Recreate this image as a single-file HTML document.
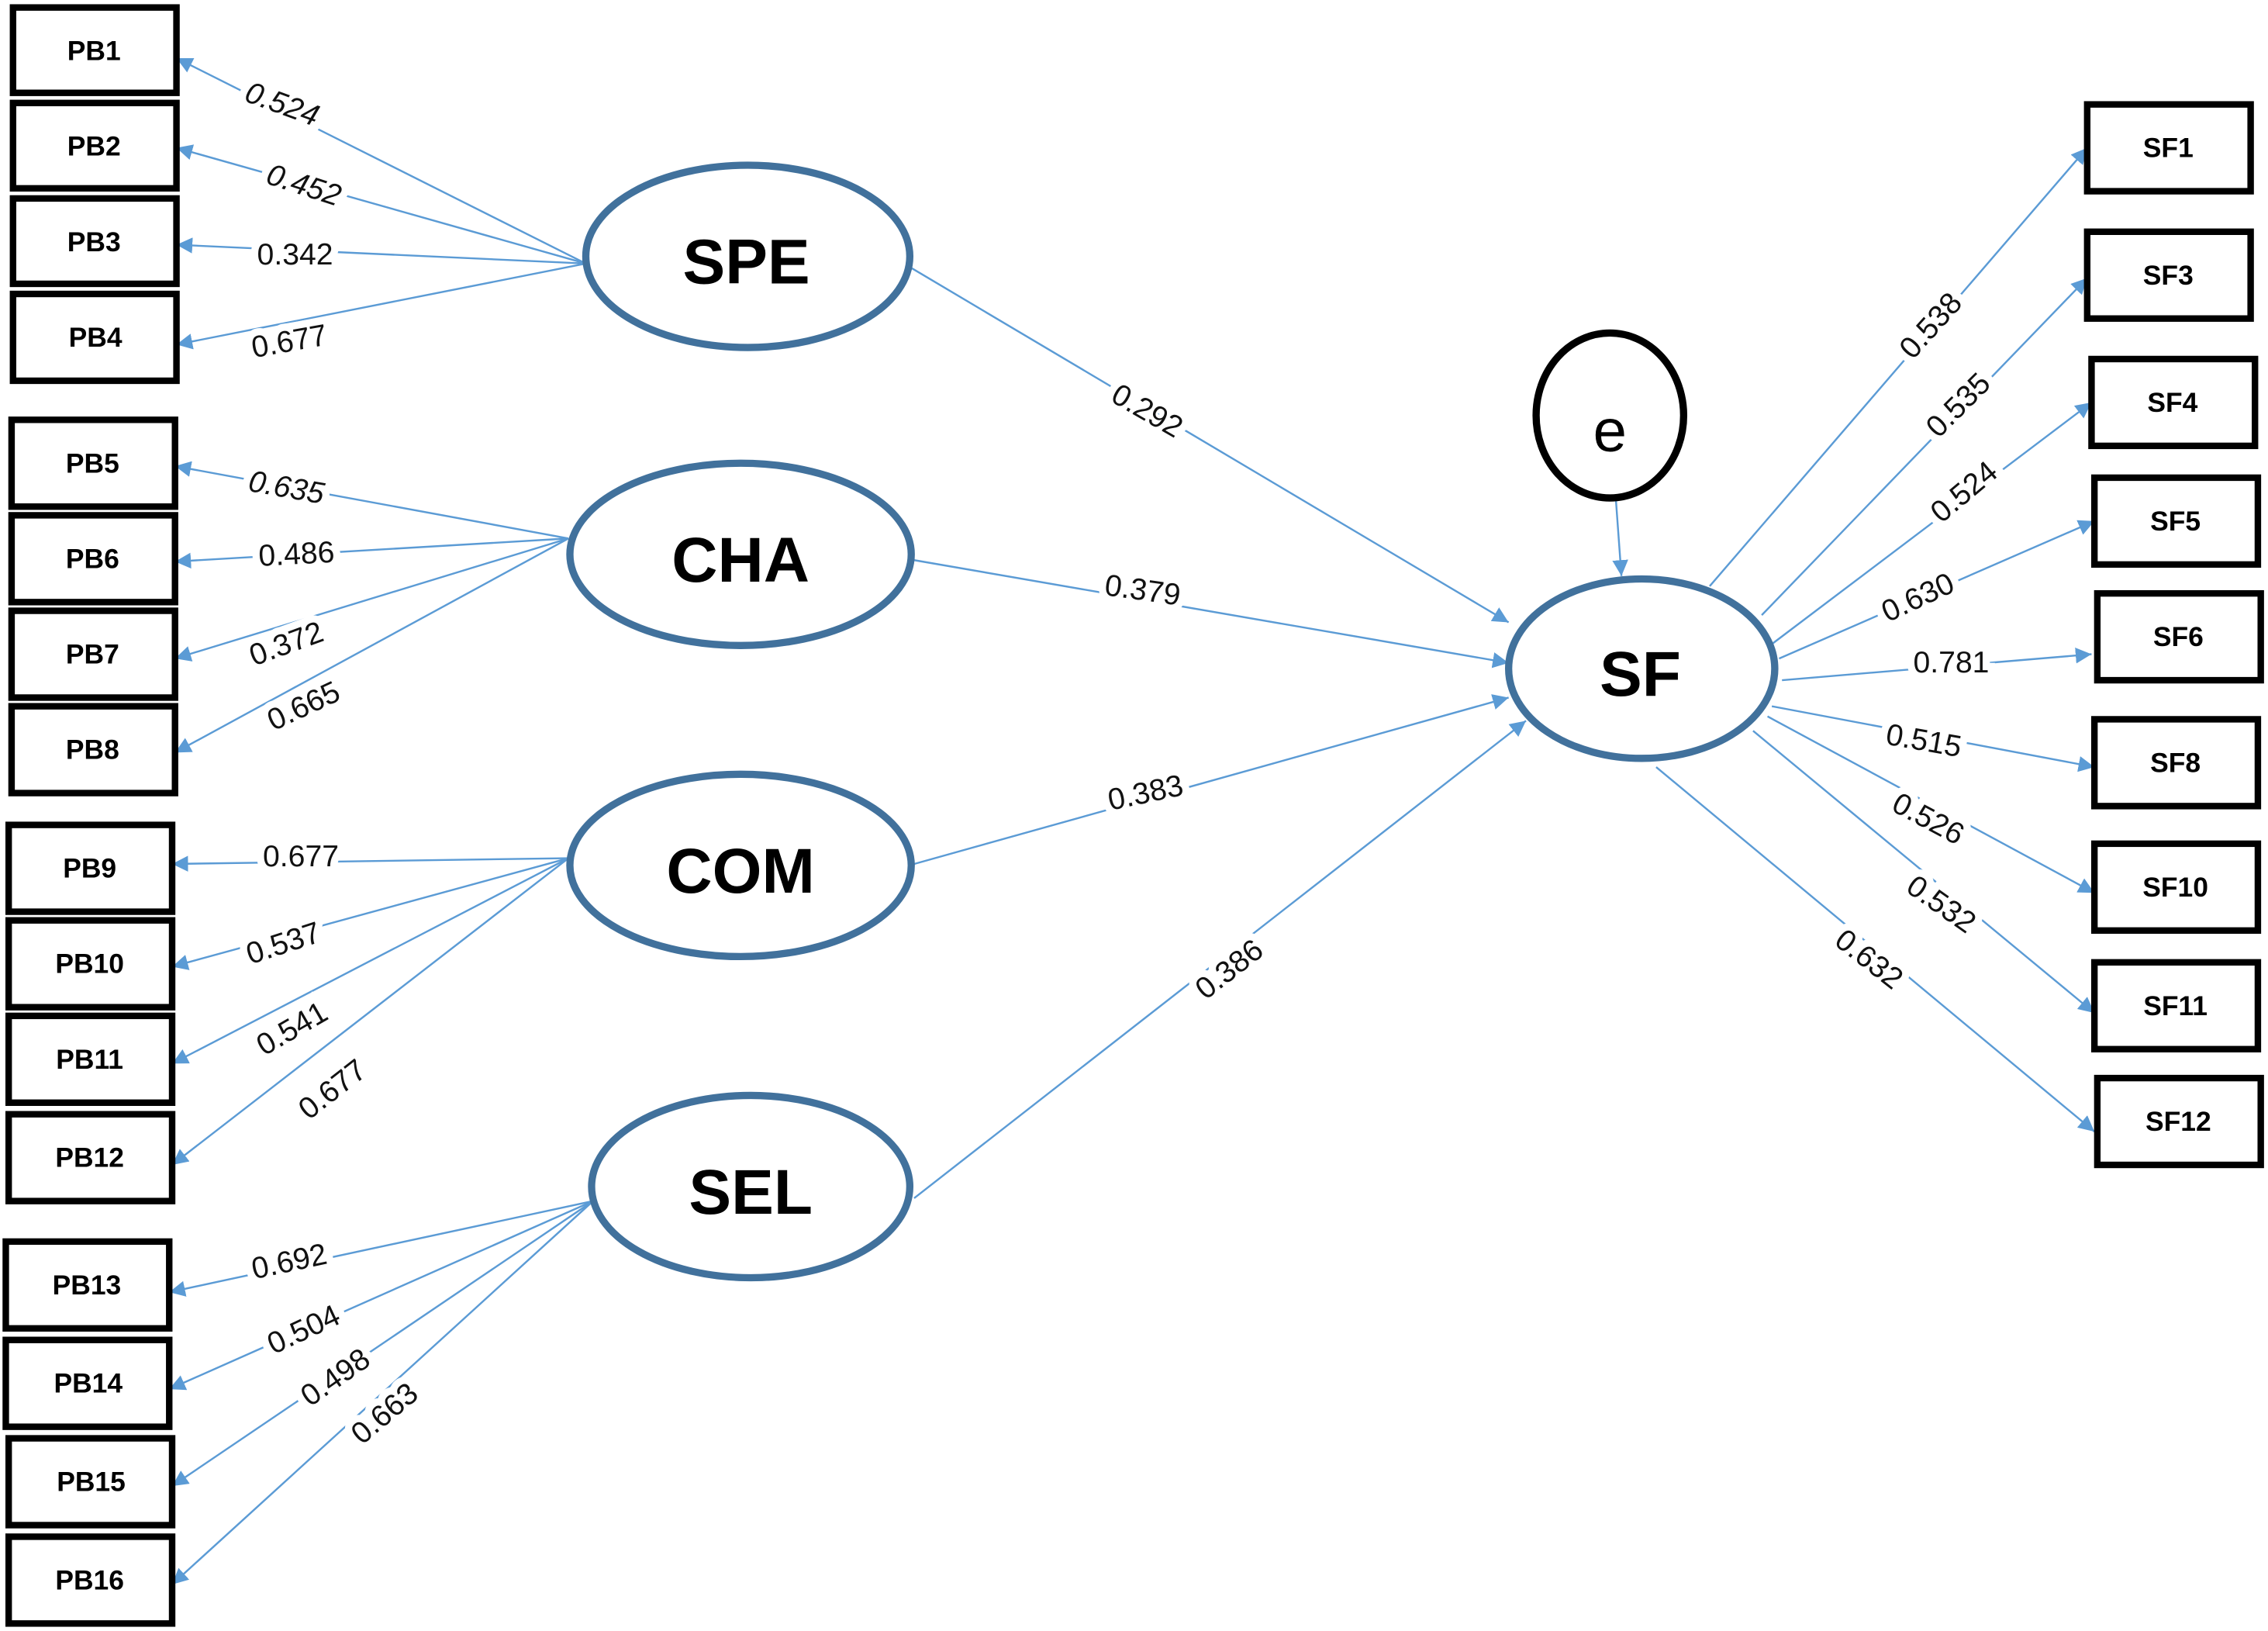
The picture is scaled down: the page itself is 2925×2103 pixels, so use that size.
<!DOCTYPE html>
<html><head><meta charset="utf-8"><style>
html,body{margin:0;padding:0;background:#fff;}
svg{display:block;}
.box{fill:#fff;stroke:#000;stroke-width:4.5;}
.bt{font-family:"Liberation Sans",sans-serif;font-weight:bold;font-size:19px;text-anchor:middle;dominant-baseline:central;}
.lv{fill:#fff;stroke:#41719c;stroke-width:5;}
.lt{font-family:"Liberation Sans",sans-serif;font-weight:bold;font-size:44px;text-anchor:middle;dominant-baseline:central;}
.ln{stroke:#5b9bd5;stroke-width:1.3;fill:none;}
.lb{font-family:"Liberation Sans",sans-serif;font-size:21px;text-anchor:middle;dominant-baseline:central;fill:#111;stroke:#fff;stroke-width:10;paint-order:stroke;}
</style></head><body>
<svg width="2925" height="2103" viewBox="0 0 1568 1127" xmlns="http://www.w3.org/2000/svg">
<defs><marker id="a" viewBox="0 0 10 10" refX="10" refY="5" markerWidth="11" markerHeight="11" markerUnits="userSpaceOnUse" orient="auto"><path d="M0,0L10,5L0,10z" fill="#5b9bd5"/></marker></defs>
<g class="ln" marker-end="url(#a)">
<line x1="405" y1="182" x2="122" y2="40"/>
<line x1="405" y1="182" x2="122" y2="102"/>
<line x1="405" y1="182" x2="122" y2="169"/>
<line x1="405" y1="182" x2="122" y2="238"/>
<line x1="393" y1="372" x2="121" y2="322"/>
<line x1="393" y1="372" x2="121" y2="388"/>
<line x1="393" y1="372" x2="121" y2="455"/>
<line x1="393" y1="372" x2="121" y2="520"/>
<line x1="393" y1="593" x2="119" y2="597"/>
<line x1="393" y1="593" x2="119" y2="668"/>
<line x1="393" y1="593" x2="119" y2="735"/>
<line x1="393" y1="593" x2="119" y2="805"/>
<line x1="410" y1="830" x2="117" y2="893"/>
<line x1="410" y1="830" x2="117" y2="960"/>
<line x1="410" y1="830" x2="119" y2="1027"/>
<line x1="410" y1="830" x2="119" y2="1095"/>
<line x1="630" y1="185" x2="1043" y2="430"/>
<line x1="632" y1="387" x2="1043" y2="458"/>
<line x1="632" y1="597" x2="1043" y2="482"/>
<line x1="632" y1="828" x2="1055" y2="498"/>
<line x1="1117" y1="343" x2="1121" y2="398"/>
<line x1="1182" y1="405" x2="1443" y2="102"/>
<line x1="1218" y1="425" x2="1443" y2="192"/>
<line x1="1225" y1="445" x2="1446" y2="278"/>
<line x1="1230" y1="455" x2="1448" y2="360"/>
<line x1="1232" y1="470" x2="1446" y2="452"/>
<line x1="1225" y1="488" x2="1448" y2="530"/>
<line x1="1222" y1="495" x2="1448" y2="617"/>
<line x1="1212" y1="505" x2="1448" y2="700"/>
<line x1="1145" y1="530" x2="1448" y2="782"/>
</g>
<g>
<text class="lb" transform="translate(195,72) rotate(20)" font-style="italic">0.524</text>
<text class="lb" transform="translate(210,128) rotate(18)" font-style="italic">0.452</text>
<text class="lb" transform="translate(204,176)">0.342</text>
<text class="lb" transform="translate(200,236) rotate(-10)">0.677</text>
<text class="lb" transform="translate(198,337) rotate(10)" font-style="italic">0.635</text>
<text class="lb" transform="translate(205,383) rotate(-3)">0.486</text>
<text class="lb" transform="translate(198,445) rotate(-20)">0.372</text>
<text class="lb" transform="translate(210,488) rotate(-25)">0.665</text>
<text class="lb" transform="translate(208,592)">0.677</text>
<text class="lb" transform="translate(196,652) rotate(-18)">0.537</text>
<text class="lb" transform="translate(202,711) rotate(-30)">0.541</text>
<text class="lb" transform="translate(230,753) rotate(-38)">0.677</text>
<text class="lb" transform="translate(200,872) rotate(-12)">0.692</text>
<text class="lb" transform="translate(210,919) rotate(-25)">0.504</text>
<text class="lb" transform="translate(232,952) rotate(-35)">0.498</text>
<text class="lb" transform="translate(266,977) rotate(-40)">0.663</text>
<text class="lb" transform="translate(793,284) rotate(30)">0.292</text>
<text class="lb" transform="translate(790,408) rotate(8)">0.379</text>
<text class="lb" transform="translate(792,548) rotate(-12)">0.383</text>
<text class="lb" transform="translate(850,670) rotate(-38)">0.386</text>
<text class="lb" transform="translate(1335,225) rotate(-48)">0.538</text>
<text class="lb" transform="translate(1354,280) rotate(-45)">0.535</text>
<text class="lb" transform="translate(1358,340) rotate(-40)">0.524</text>
<text class="lb" transform="translate(1326,413) rotate(-25)">0.630</text>
<text class="lb" transform="translate(1349,458)">0.781</text>
<text class="lb" transform="translate(1330,512) rotate(10)">0.515</text>
<text class="lb" transform="translate(1333,566) rotate(28)">0.526</text>
<text class="lb" transform="translate(1342,625) rotate(35)">0.532</text>
<text class="lb" transform="translate(1292,663) rotate(38)">0.632</text>
</g>
<g>
<rect class="box" x="9" y="5" width="113" height="59"/><text class="bt" x="65" y="35">PB1</text>
<rect class="box" x="9" y="71" width="113" height="59"/><text class="bt" x="65" y="101">PB2</text>
<rect class="box" x="9" y="137" width="113" height="59"/><text class="bt" x="65" y="167">PB3</text>
<rect class="box" x="9" y="203" width="113" height="60"/><text class="bt" x="66" y="233">PB4</text>
<rect class="box" x="8" y="290" width="113" height="60"/><text class="bt" x="64" y="320">PB5</text>
<rect class="box" x="8" y="356" width="113" height="60"/><text class="bt" x="64" y="386">PB6</text>
<rect class="box" x="8" y="422" width="113" height="60"/><text class="bt" x="64" y="452">PB7</text>
<rect class="box" x="8" y="488" width="113" height="60"/><text class="bt" x="64" y="518">PB8</text>
<rect class="box" x="6" y="570" width="113" height="60"/><text class="bt" x="62" y="600">PB9</text>
<rect class="box" x="6" y="636" width="113" height="60"/><text class="bt" x="62" y="666">PB10</text>
<rect class="box" x="6" y="702" width="113" height="60"/><text class="bt" x="62" y="732">PB11</text>
<rect class="box" x="6" y="770" width="113" height="60"/><text class="bt" x="62" y="800">PB12</text>
<rect class="box" x="4" y="858" width="113" height="60"/><text class="bt" x="60" y="888">PB13</text>
<rect class="box" x="4" y="926" width="113" height="60"/><text class="bt" x="61" y="956">PB14</text>
<rect class="box" x="6" y="994" width="113" height="60"/><text class="bt" x="63" y="1024">PB15</text>
<rect class="box" x="6" y="1062" width="113" height="60"/><text class="bt" x="62" y="1092">PB16</text>
<rect class="box" x="1443" y="72" width="113" height="60"/><text class="bt" x="1499" y="102">SF1</text>
<rect class="box" x="1443" y="160" width="113" height="60"/><text class="bt" x="1499" y="190">SF3</text>
<rect class="box" x="1446" y="248" width="113" height="60"/><text class="bt" x="1502" y="278">SF4</text>
<rect class="box" x="1448" y="330" width="113" height="60"/><text class="bt" x="1504" y="360">SF5</text>
<rect class="box" x="1450" y="410" width="113" height="60"/><text class="bt" x="1506" y="440">SF6</text>
<rect class="box" x="1448" y="497" width="113" height="60"/><text class="bt" x="1504" y="527">SF8</text>
<rect class="box" x="1448" y="583" width="113" height="60"/><text class="bt" x="1504" y="613">SF10</text>
<rect class="box" x="1448" y="665" width="113" height="60"/><text class="bt" x="1504" y="695">SF11</text>
<rect class="box" x="1450" y="745" width="113" height="60"/><text class="bt" x="1506" y="775">SF12</text>
</g>
<g>
<ellipse class="lv" cx="517" cy="177" rx="112" ry="63"/><text class="lt" x="516" y="181">SPE</text>
<ellipse class="lv" cx="512" cy="383" rx="118" ry="63"/><text class="lt" x="512" y="387">CHA</text>
<ellipse class="lv" cx="512" cy="598" rx="118" ry="63"/><text class="lt" x="512" y="602">COM</text>
<ellipse class="lv" cx="519" cy="820" rx="110" ry="63"/><text class="lt" x="519" y="824">SEL</text>
<ellipse class="lv" cx="1135" cy="462" rx="92" ry="62"/><text class="lt" x="1134" y="466">SF</text>
<ellipse cx="1113" cy="287" rx="51" ry="57" fill="#fff" stroke="#000" stroke-width="5"/>
<text x="1113" y="297" font-family="Liberation Sans,sans-serif" font-size="42" text-anchor="middle" dominant-baseline="central">e</text>
</g>
</svg>
</body></html>
